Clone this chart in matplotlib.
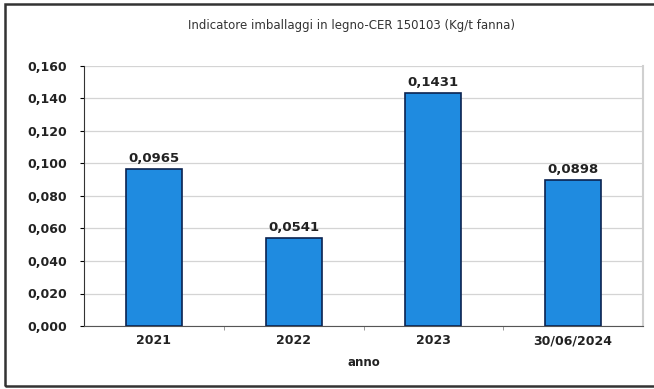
import matplotlib.pyplot as plt
from matplotlib.patches import Rectangle
from matplotlib.ticker import FixedLocator

plt.rcParams['font.family'] = ['DejaVu Sans']

anni = ["2021", "2022", "2023", "30/06/2024"]
valori = [0.0965, 0.0541, 0.1431, 0.0898]
etichette = ["0,0965", "0,0541", "0,1431", "0,0898"]
y_ticks = [0.000, 0.020, 0.040, 0.060, 0.080, 0.100, 0.120, 0.140, 0.160]

W, H = 654, 389
fig = plt.figure(figsize=(W / 100, H / 100), dpi=100)
ax = fig.add_axes([84 / W, 1 - 326 / H, (643 - 84) / W, (326 - 66) / H])

x = range(len(anni))
ax.bar(x, valori, width=0.4, color="#1f8be0", edgecolor="#0b2350",
       linewidth=1.2, zorder=3)

for xi, v, lab in zip(x, valori, etichette):
    ax.annotate(lab, (xi, v), xytext=(0, 3), textcoords="offset points",
                ha="center", va="bottom", fontsize=9.5, fontweight="bold",
                color="#222222")

ax.set_xlim(-0.5, len(anni) - 0.5)
ax.set_ylim(0, 0.16)
ax.set_yticks(y_ticks)
ax.set_yticklabels([f"{t:.3f}".replace(".", ",") for t in y_ticks])
ax.set_xticks(list(x))
ax.set_xticklabels(anni)
ax.xaxis.set_minor_locator(FixedLocator([0.5, 1.5, 2.5]))
ax.tick_params(axis="x", which="major", length=0, pad=6)
ax.tick_params(axis="x", which="minor", length=3, color="#888888")
ax.tick_params(axis="y", length=3, pad=9)
for lab in ax.get_xticklabels() + ax.get_yticklabels():
    lab.set_fontsize(9)
    lab.set_fontweight("bold")
    lab.set_color("#222222")

ax.grid(axis="y", color="#d4d4d4", linewidth=0.9, zorder=0)
ax.spines["left"].set_color("#333333")
ax.spines["bottom"].set_color("#555555")
ax.spines["top"].set_visible(False)
ax.spines["right"].set_color("#d0d0d0")
ax.spines["right"].set_linewidth(1.5)

ax.set_xlabel("anno", fontsize=8.5, fontweight="bold", color="#222222",
              labelpad=6)

fig.text(351 / W, 1 - 26 / H, "Indicatore imballaggi in legno-CER 150103 (Kg/t fanna)",
         ha="center", va="center", fontsize=8.5, color="#333333")

# outer frame, its right side runs past the edge of the image
fig.patches.append(Rectangle((5 / W, 3 / H), 1.2, (386 - 4) / H,
                             transform=fig.transFigure, fill=False,
                             edgecolor="#333333", linewidth=1.8))

fig.savefig("out.png", dpi=100)
